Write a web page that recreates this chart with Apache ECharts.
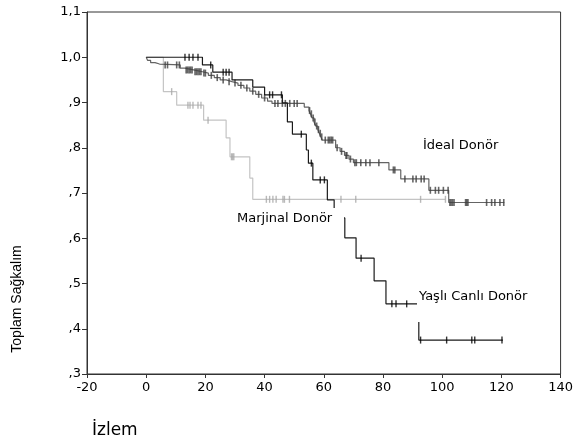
<!DOCTYPE html>
<html>
<head>
<meta charset="utf-8">
<script src="https://cdn.jsdelivr.net/npm/echarts@6/dist/echarts.min.js"></script>
<style>html,body{margin:0;padding:0;background:#fff;}#c{width:576px;height:445px;}</style>
</head>
<body>
<div id="c"></div>
<script>
// ---- Data ----
// İdeal Donör: event times and survival after each step
const idealT = [0, 0.5, 1.5, 3, 4.5, 11.5, 13, 16, 19, 21, 23, 25, 27, 29, 31, 33, 35, 37, 39, 41, 42.5, 53.4, 55, 55.5, 56, 56.7, 57.3, 58, 58.5, 59, 59.5, 64, 65.5, 67, 68.5, 70, 82, 86, 95.5, 102.2];
const idealS = [1.0, 0.993, 0.988, 0.985, 0.983, 0.976, 0.972, 0.968, 0.965, 0.96, 0.955, 0.95, 0.946, 0.943, 0.938, 0.932, 0.925, 0.918, 0.91, 0.903, 0.898, 0.89, 0.882, 0.875, 0.866, 0.857, 0.848, 0.84, 0.832, 0.824, 0.817, 0.80, 0.792, 0.783, 0.775, 0.767, 0.751, 0.731, 0.706, 0.679];
const idealEnd = 121;
const idealCens = [6.4, 7.2, 10.3, 11.2, 13.5, 14, 14.5, 15, 15.5, 16.5, 17, 17.5, 18, 18.5, 19.5, 20, 22, 24, 26, 28, 30, 32, 34, 36, 38, 40, 43.5, 44.5, 46, 47, 48.5, 50, 51, 55.2, 55.8, 56.4, 57, 57.6, 58.2, 58.8, 59.3, 60.5, 61.5, 62, 62.5, 63, 64.5, 66, 67.5, 67.8, 69, 70.5, 71, 72.5, 74.2, 75.6, 78.6, 83.5, 84, 87.4, 90.1, 91.2, 92.9, 93.9, 96, 97.7, 98.8, 100.4, 102, 102.6, 103, 103.5, 104, 107.9, 108.3, 108.7, 115, 116.7, 117.8, 119.5, 120.8];

// Marjinal Donör
const marT = [0, 5.8, 10.3, 19.4, 27, 28.3, 35, 36];
const marS = [1.0, 0.924, 0.894, 0.861, 0.822, 0.780, 0.733, 0.686];
const marEnd = 101.1;
const marCens = [8.6, 14.1, 14.8, 15.8, 17.5, 18.5, 20.9, 28.8, 29.2, 29.6, 40.6, 41.7, 42.8, 43.9, 46.2, 46.7, 48.4, 65.8, 70.8, 92.7, 101.1];

// Yaşlı Canlı Donör
const yasT = [0, 19, 22.5, 29, 36, 40, 46, 47.7, 49.4, 54.1, 54.8, 56.3, 61.2, 63.5, 67.1, 70.9, 77, 81, 92.1];
const yasS = [1.0, 0.983, 0.967, 0.95, 0.934, 0.917, 0.899, 0.857, 0.83, 0.795, 0.766, 0.729, 0.685, 0.645, 0.601, 0.556, 0.506, 0.455, 0.375];
const yasEnd = 120.5;
const yasCens = [13.1, 14.5, 15.8, 17.5, 21.8, 26, 27, 28, 41.7, 42.7, 45.7, 52.4, 55.8, 58.8, 60.2, 72.6, 83, 84.4, 88, 92.7, 101.5, 110, 111, 120.2];

const seriesNames = ['İdeal Donör', 'Marjinal Donör', 'Yaşlı Canlı Donör'];
const yTickValues = [0.3, 0.4, 0.5, 0.6, 0.7, 0.8, 0.9, 1.0, 1.1];
const yTickLabels = [',3', ',4', ',5', ',6', ',7', ',8', ',9', '1,0', '1,1'];
const xTickValues = [-20, 0, 20, 40, 60, 80, 100, 120, 140];
const xTickLabels = ['-20', '0', '20', '40', '60', '80', '100', '120', '140'];

// ---- helpers ----
function curve(T, S, end) {
  const d = T.map((t, i) => [t, S[i]]);
  d.push([end, S[S.length - 1]]);
  return d;
}
function survAt(t, T, S) {
  let v = S[0];
  for (let i = 0; i < T.length; i++) { if (T[i] <= t) v = S[i]; }
  return v;
}
function cens(C, T, S) { return C.map(t => [t, survAt(t, T, S)]); }

const chart = echarts.init(document.getElementById('c'), null, { renderer: 'canvas' });
const tickFont = { color: '#000', fontFamily: 'DejaVu Sans', fontSize: 13 };

const option = {
  animation: false,
  backgroundColor: '#fff',
  grid: { left: 87, right: 13, top: 12, bottom: 71, show: true, borderColor: '#333', borderWidth: 1, backgroundColor: 'transparent' },
  xAxis: {
    type: 'value', min: -20, max: 140, interval: 20,
    axisLine: { show: true, onZero: false, lineStyle: { color: '#333', width: 1 } },
    axisTick: { show: true, length: 4, lineStyle: { color: '#333' } },
    splitLine: { show: false },
    axisLabel: Object.assign({ margin: 7, formatter: v => { const i = xTickValues.findIndex(x => Math.abs(x - v) < 1e-6); return i >= 0 ? xTickLabels[i] : ''; } }, tickFont)
  },
  yAxis: {
    type: 'value', min: 0.3, max: 1.1, interval: 0.1,
    axisLine: { show: true, onZero: false, lineStyle: { color: '#333', width: 1 } },
    axisTick: { show: true, length: 5, lineStyle: { color: '#333' } },
    splitLine: { show: false },
    axisLabel: Object.assign({ margin: 6, formatter: v => { const i = yTickValues.findIndex(y => Math.abs(y - v) < 1e-6); return i >= 0 ? yTickLabels[i] : ''; } }, tickFont)
  },
  series: [
    { name: seriesNames[1], type: 'line', step: 'end', data: curve(marT, marS, marEnd), symbol: 'none', lineStyle: { color: '#c4c4c4', width: 1.2 }, z: 2 },
    { name: seriesNames[1] + ' c', type: 'scatter', data: cens(marCens, marT, marS), symbol: 'rect', symbolSize: [1.4, 7], itemStyle: { color: '#a8a8a8' }, z: 3 },
    { name: seriesNames[0], type: 'line', step: 'end', data: curve(idealT, idealS, idealEnd), symbol: 'none', lineStyle: { color: '#646464', width: 1.2 }, z: 4 },
    { name: seriesNames[0] + ' c', type: 'scatter', data: cens(idealCens, idealT, idealS), symbol: 'rect', symbolSize: [1.6, 7], itemStyle: { color: '#404040' }, z: 5 },
    { name: seriesNames[2], type: 'line', step: 'end', data: curve(yasT, yasS, yasEnd), symbol: 'none', lineStyle: { color: '#1a1a1a', width: 1.2 }, z: 6 },
    { name: seriesNames[2] + ' c', type: 'scatter', data: cens(yasCens, yasT, yasS), symbol: 'rect', symbolSize: [1.4, 7], itemStyle: { color: '#000' }, z: 7 }
  ],
  graphic: [
    { type: 'text', z: 100, x: 423, y: 146, style: { text: seriesNames[0], font: '13px "DejaVu Sans"', fill: '#000', textAlign: 'left', textVerticalAlign: 'middle' } },
    { type: 'rect', z: 99, shape: { x: 233, y: 208, width: 111, height: 22 }, style: { fill: '#fff' } },
    { type: 'text', z: 100, x: 237, y: 219, style: { text: seriesNames[1], font: '13px "DejaVu Sans"', fill: '#000', textAlign: 'left', textVerticalAlign: 'middle' } },
    { type: 'rect', z: 99, shape: { x: 417, y: 284, width: 118, height: 38 }, style: { fill: '#fff' } },
    { type: 'text', z: 100, x: 419, y: 297, style: { text: seriesNames[2], font: '13px "DejaVu Sans"', fill: '#000', textAlign: 'left', textVerticalAlign: 'middle' } },
    { type: 'text', z: 100, x: 17, y: 299, rotation: Math.PI / 2, style: { text: 'Toplam Sağkalım', font: '14px "Liberation Sans"', fill: '#000', textAlign: 'center', textVerticalAlign: 'middle' } },
    { type: 'text', z: 100, x: 92, y: 431, style: { text: 'İzlem', font: '17px "DejaVu Sans"', fill: '#000', textAlign: 'left', textVerticalAlign: 'middle' } }
  ]
};
chart.setOption(option);
</script>
</body>
</html>
